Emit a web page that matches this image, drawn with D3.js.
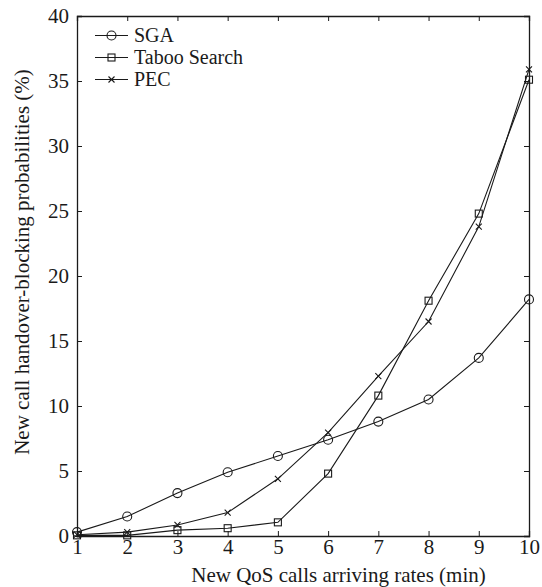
<!DOCTYPE html>
<html><head><meta charset="utf-8">
<script src="https://cdn.jsdelivr.net/npm/d3@7"></script>
<style>body{margin:0;background:#fff}svg{display:block}</style>
</head><body>
<svg id="c" width="542" height="587"></svg>
<script>
const xValues = [1,2,3,4,5,6,7,8,9,10];
const sga = [0.3,1.5,3.3,4.9,6.15,7.4,8.8,10.5,13.7,18.2];
const taboo = [0.05,0.05,0.45,0.6,1.05,4.8,10.8,18.1,24.8,35.1];
const pec = [0.1,0.3,0.85,1.8,4.4,7.95,12.3,16.5,23.8,35.9];
const seriesNames = ["SGA","Taboo Search","PEC"];
const markers = ["circle","square","cross"];
const yTicks = [0,5,10,15,20,25,30,35,40];
const xLabel = "New QoS calls arriving rates (min)";
const yLabel = "New call handover-blocking probabilities (%)";

const svg = d3.select("#c");
const L=77,R=529,T=16,B=536;
const x = d3.scaleLinear().domain([1,10]).range([L,R]);
const y = d3.scaleLinear().domain([0,40]).range([B,T]);
const col="#1a1a1a", font="'Liberation Serif', 'Times New Roman', serif";

const tl=5;
svg.append("g").attr("transform",`translate(0,${B})`)
  .call(d3.axisBottom(x).tickValues(xValues).tickSize(-tl).tickPadding(3).tickFormat(d3.format("d")));
svg.append("g").attr("transform",`translate(0,${T})`)
  .call(d3.axisTop(x).tickValues(xValues).tickSize(-tl).tickFormat(""));
svg.append("g").attr("transform",`translate(${L},0)`)
  .call(d3.axisLeft(y).tickValues(yTicks).tickSize(-tl).tickPadding(8).tickFormat(d3.format("d")));
svg.append("g").attr("transform",`translate(${R},0)`)
  .call(d3.axisRight(y).tickValues(yTicks).tickSize(-tl).tickFormat(""));
svg.selectAll(".domain").attr("stroke",col).attr("stroke-width",1.3);
svg.selectAll(".tick line").attr("stroke",col).attr("stroke-width",1);
svg.selectAll(".tick text").attr("font-family",font).attr("font-size",21).attr("fill",col);

const data=[sga,taboo,pec];
const line=d3.line().x((d,i)=>x(xValues[i])).y(d=>y(d));
function drawMarker(g,type,cx,cy){
  if(type==="circle") g.append("circle").attr("cx",cx).attr("cy",cy).attr("r",4.5).attr("fill","none").attr("stroke",col).attr("stroke-width",1.1);
  else if(type==="square") g.append("rect").attr("x",cx-3.5).attr("y",cy-3.5).attr("width",7).attr("height",7).attr("fill","none").attr("stroke",col).attr("stroke-width",1.1);
  else g.append("path").attr("d",`M${cx-3},${cy-3}L${cx+3},${cy+3}M${cx-3},${cy+3}L${cx+3},${cy-3}`).attr("stroke",col).attr("stroke-width",1.1);
}
data.forEach((s,k)=>{
  const g=svg.append("g");
  g.append("path").attr("d",line(s)).attr("fill","none").attr("stroke",col).attr("stroke-width",1.1);
  s.forEach((v,i)=>drawMarker(g,markers[k],x(xValues[i]),y(v)));
});

seriesNames.forEach((n,k)=>{
  const ly=35.5+k*22;
  const g=svg.append("g");
  g.append("line").attr("x1",95).attr("x2",128).attr("y1",ly).attr("y2",ly).attr("stroke",col).attr("stroke-width",1.1);
  drawMarker(g,markers[k],111.5,ly);
  g.append("text").attr("x",134).attr("y",ly+6.5).attr("font-family",font).attr("font-size",20).attr("fill",col).text(n);
});

svg.append("text").attr("x",338.5).attr("y",582).attr("text-anchor","middle")
  .attr("font-family",font).attr("font-size",21).attr("fill",col).text(xLabel);
svg.append("text").attr("transform",`translate(28.5,262) rotate(-90)`).attr("text-anchor","middle")
  .attr("font-family",font).attr("font-size",21).attr("fill",col).text(yLabel);
</script>
</body></html>
